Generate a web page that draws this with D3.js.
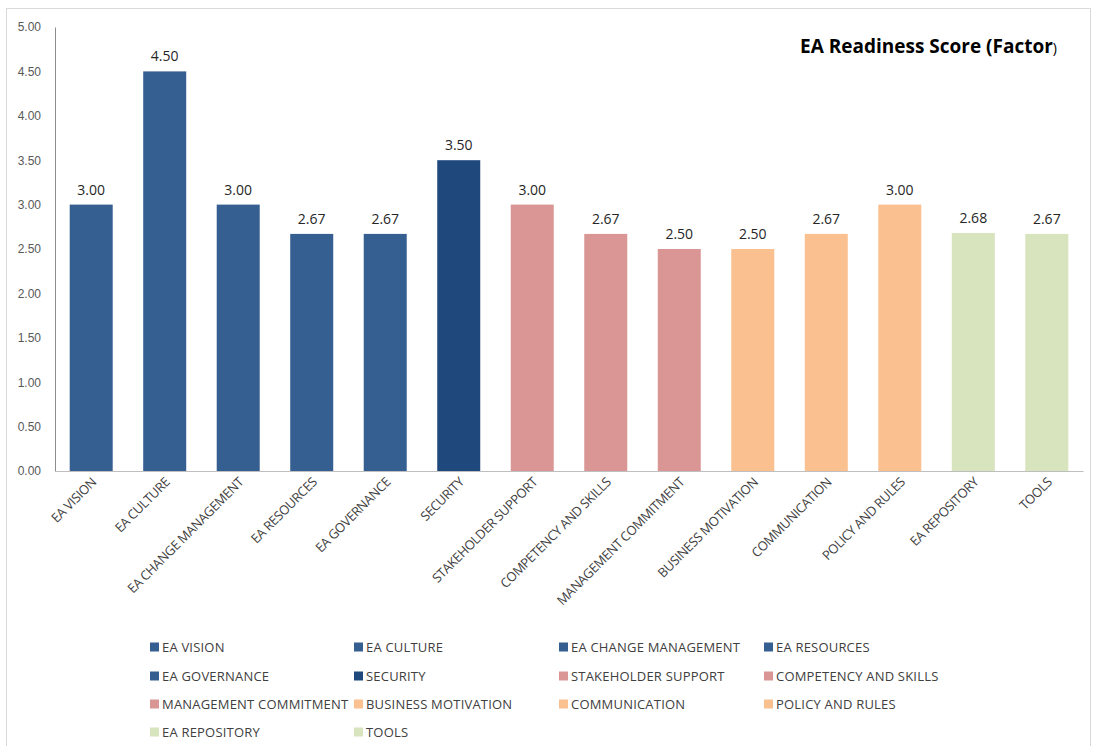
<!DOCTYPE html>
<html>
<head>
<meta charset="utf-8">
<script src="https://cdn.jsdelivr.net/npm/d3@7"></script>
<style>
  body { margin: 0; background: #fff; }
  svg { font-family: "Open Sans", "Noto Sans", sans-serif; }
</style>
</head>
<body>
<div id="chart"></div>
<script>
var factors = ["EA VISION", "EA CULTURE", "EA CHANGE MANAGEMENT", "EA RESOURCES", "EA GOVERNANCE",
    "SECURITY", "STAKEHOLDER SUPPORT", "COMPETENCY AND SKILLS", "MANAGEMENT COMMITMENT",
    "BUSINESS MOTIVATION", "COMMUNICATION", "POLICY AND RULES", "EA REPOSITORY", "TOOLS"]
var scores = [3.00, 4.50, 3.00, 2.67, 2.67, 3.50, 3.00, 2.67, 2.50, 2.50, 2.67, 3.00, 2.68, 2.67]
var barColors = ["#365f91", "#365f91", "#365f91", "#365f91", "#365f91", "#1f497d",
    "#d99694", "#d99694", "#d99694", "#fac090", "#fac090", "#fac090", "#d7e4bd", "#d7e4bd"]
var yTicks = [0, 0.5, 1, 1.5, 2, 2.5, 3, 3.5, 4, 4.5, 5]

var width = 1094
var height = 746

var svg = d3.select("#chart")
    .append("svg")
    .attr("width", width)
    .attr("height", height)

// chart frame
svg.append("rect")
    .attr("x", 6.5).attr("y", 8.5)
    .attr("width", 1084).attr("height", 760)
    .attr("fill", "none")
    .attr("stroke", "#d9d9d9")

var x = d3.scaleBand()
    .domain(factors)
    .range([55, 1083])
    .paddingInner(0.415)
    .paddingOuter(0.2)

var y = d3.scaleLinear()
    .domain([0, 5])
    .range([471, 27])

// y axis
var yAxis = svg.append("g")
    .attr("transform", "translate(55,0)")
    .call(d3.axisLeft(y).tickValues(yTicks).tickSize(0).tickPadding(14).tickFormat(d3.format(".2f")))
yAxis.select(".domain").attr("stroke", "#8c8c8c")
yAxis.selectAll("text").attr("fill", "#595959").style("font-size", "12px")

// bars
svg.append("g")
    .selectAll("rect")
    .data(scores)
    .enter()
    .append("rect")
    .attr("x", (d, i) => x(factors[i]))
    .attr("y", (d) => y(d))
    .attr("width", x.bandwidth())
    .attr("height", (d) => y(0) - y(d))
    .attr("fill", (d, i) => barColors[i])

// value labels
svg.append("g")
    .selectAll("text")
    .data(scores)
    .enter()
    .append("text")
    .attr("x", (d, i) => x(factors[i]) + x.bandwidth() / 2)
    .attr("y", (d) => y(d) - 10)
    .attr("text-anchor", "middle")
    .attr("fill", "#262626")
    .style("font-size", "14px")
    .text((d) => d.toFixed(2))

// x axis
var xAxis = svg.append("g")
    .attr("transform", "translate(0,471)")
    .call(d3.axisBottom(x).tickSize(0).tickSizeOuter(0).tickFormat(""))
xAxis.select(".domain").attr("stroke", "#bfbfbf")

svg.append("g")
    .selectAll("text")
    .data(factors)
    .enter()
    .append("text")
    .attr("transform", (d) => "translate(" + (x(d) + x.bandwidth() / 2 + 6) + ",483) rotate(-45)")
    .attr("text-anchor", "end")
    .attr("fill", "#404040")
    .style("font-size", "13px")
    .style("letter-spacing", "-0.4px")
    .text((d) => d)

// title
var title = svg.append("text")
    .attr("x", 800)
    .attr("y", 53)
    .attr("fill", "#000")
    .style("font-size", "19px")
    .style("font-weight", "bold")
title.append("tspan").text("EA Readiness Score (Factor")
title.append("tspan").style("font-weight", "normal").style("font-size", "14px").text(")")

// legend
var legendCols = [150, 354, 559, 764]
var legendRows = [647, 676, 704, 732]

var legend = svg.append("g")
    .selectAll("g")
    .data(factors)
    .enter()
    .append("g")
    .attr("transform", (d, i) => "translate(" + legendCols[i % 4] + "," + legendRows[Math.floor(i / 4)] + ")")

legend.append("rect")
    .attr("x", 0).attr("y", -4.5)
    .attr("width", 9).attr("height", 9)
    .attr("fill", (d, i) => barColors[i])

legend.append("text")
    .attr("x", 12)
    .attr("y", 5)
    .attr("fill", "#404040")
    .style("font-size", "13px")
    .style("letter-spacing", "0.2px")
    .text((d) => d)
</script>
</body>
</html>
